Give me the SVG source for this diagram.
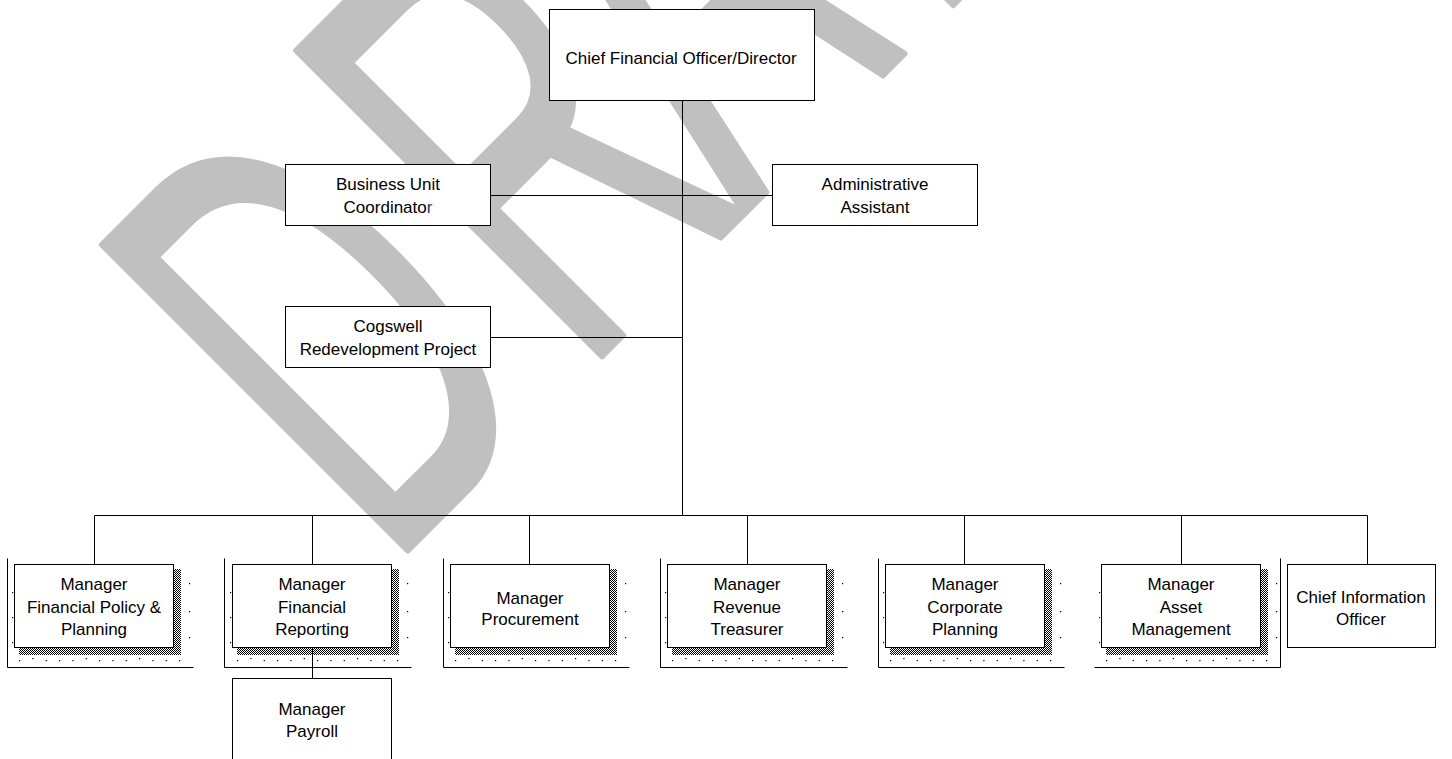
<svg xmlns="http://www.w3.org/2000/svg" xmlns:xlink="http://www.w3.org/1999/xlink" width="1452" height="759" viewBox="0 0 1452 759">
<style>
.box{fill:#fff;stroke:#000;stroke-width:1}
.ln{stroke:#000;stroke-width:1;fill:none}
.lbl{font-family:"Liberation Sans",Arial,sans-serif;font-size:17px;fill:#000;text-anchor:middle}
.wm{font-family:"Liberation Sans",Arial,sans-serif;font-size:628px;fill:#c0c0c0;stroke:#c0c0c0;stroke-width:5;stroke-linejoin:round;vector-effect:non-scaling-stroke}
.dot{fill:#000}
</style>
<defs>
<pattern id="dense" width="2" height="2" patternUnits="userSpaceOnUse">
<rect width="1" height="1" fill="#000"/><rect x="1" y="1" width="1" height="1" fill="#000"/>
</pattern>
<g id="deco">
<rect x="5" y="5" width="162" height="86" fill="url(#dense)"/>
<g class="dot">
<rect x="5" y="96" width="1.2" height="1.2"/><rect x="18.3" y="94" width="1.2" height="1.2"/><rect x="31.7" y="96" width="1.2" height="1.2"/><rect x="45" y="96" width="1.2" height="1.2"/><rect x="58.3" y="96" width="1.2" height="1.2"/><rect x="71.7" y="94" width="1.2" height="1.2"/><rect x="85" y="96" width="1.2" height="1.2"/><rect x="98.3" y="96" width="1.2" height="1.2"/><rect x="111.7" y="96" width="1.2" height="1.2"/><rect x="125" y="94" width="1.2" height="1.2"/><rect x="138.3" y="96" width="1.2" height="1.2"/><rect x="151.7" y="96" width="1.2" height="1.2"/><rect x="165" y="96" width="1.2" height="1.2"/>
<rect x="175" y="19" width="1.2" height="1.2"/><rect x="175" y="47" width="1.2" height="1.2"/><rect x="175" y="73" width="1.2" height="1.2"/>
<rect x="-2" y="28" width="1.2" height="1.2"/><rect x="-2" y="53" width="1.2" height="1.2"/><rect x="-2" y="78" width="1.2" height="1.2"/>
</g>
</g>
</defs>

<rect width="1452" height="759" fill="#fff"/>

<g id="watermark">
<text class="wm" transform="translate(406,552) rotate(-45) scale(0.55,1)" x="-49.6 450 866 1353 1709" y="0">DRAFT</text>
</g>

<g id="connectors" class="ln">
<path d="M682.5,100.5 V515.5"/>
<path d="M490.5,195.5 H772.5"/>
<path d="M490.5,337.5 H682.5"/>
<path d="M94.5,515.5 H1367.5"/>
<path d="M94.5,515.5 V564.5"/>
<path d="M312.5,515.5 V564.5"/>
<path d="M529.5,515.5 V564.5"/>
<path d="M747.5,515.5 V564.5"/>
<path d="M964.5,515.5 V564.5"/>
<path d="M1181.5,515.5 V564.5"/>
<path d="M1367.5,515.5 V564.5"/>
<path d="M312.5,647.5 V678.5"/>
</g>

<g id="cfo">
<rect class="box" x="549.5" y="9.5" width="265" height="91"/>
<text class="lbl" x="681" y="64">Chief Financial Officer/Director</text>
</g>

<g id="buc">
<rect class="box" x="285.5" y="164.5" width="205" height="61"/>
<text class="lbl" x="388" y="190">Business Unit</text>
<text class="lbl" x="388" y="213">Coordinato<tspan fill="#1f3864">r</tspan></text>
</g>

<g id="admin">
<rect class="box" x="772.5" y="164.5" width="205" height="61"/>
<text class="lbl" x="875" y="190">Administrative</text>
<text class="lbl" x="875" y="213">Assistant</text>
</g>

<g id="cogswell">
<rect class="box" x="285.5" y="306.5" width="205" height="61"/>
<text class="lbl" x="388" y="332">Cogswell</text>
<text class="lbl" x="388" y="355">Redevelopment Project</text>
</g>

<g id="mgr-policy" transform="translate(14,564)">
<path class="ln" d="M-6.5,-5.5 V103.5 H179.5"/>
<use xlink:href="#deco"/>
<rect class="box" x="0.5" y="0.5" width="159" height="83"/>
<text class="lbl" x="80" y="26">Manager</text>
<text class="lbl" x="80" y="49">Financial Policy &amp;</text>
<text class="lbl" x="80" y="71">Planning</text>
</g>

<g id="mgr-reporting" transform="translate(232,564)">
<path class="ln" d="M-7.5,-5.5 V103.5 H179.5"/>
<use xlink:href="#deco"/>
<rect class="box" x="0.5" y="0.5" width="159" height="83"/>
<text class="lbl" x="80" y="26">Manager</text>
<text class="lbl" x="80" y="49">Financial</text>
<text class="lbl" x="80" y="71">Reporting</text>
</g>

<g id="mgr-payroll">
<rect class="box" x="232.5" y="678.5" width="159" height="100"/>
<text class="lbl" x="312" y="715">Manager</text>
<text class="lbl" x="312" y="737">Payroll</text>
</g>

<g id="mgr-procurement" transform="translate(450,564)">
<path class="ln" d="M-6.5,-5.5 V103.5 H179.5"/>
<use xlink:href="#deco"/>
<rect class="box" x="0.5" y="0.5" width="159" height="83"/>
<text class="lbl" x="80" y="40">Manager</text>
<text class="lbl" x="80" y="61">Procurement</text>
</g>

<g id="mgr-revenue" transform="translate(667,564)">
<path class="ln" d="M-6.5,-5.5 V103.5 H180.5"/>
<use xlink:href="#deco"/>
<rect class="box" x="0.5" y="0.5" width="159" height="83"/>
<text class="lbl" x="80" y="26">Manager</text>
<text class="lbl" x="80" y="49">Revenue</text>
<text class="lbl" x="80" y="71">Treasurer</text>
</g>

<g id="mgr-corporate" transform="translate(885,564)">
<path class="ln" d="M-6.5,-5.5 V103.5 H179.5"/>
<use xlink:href="#deco"/>
<rect class="box" x="0.5" y="0.5" width="159" height="83"/>
<text class="lbl" x="80" y="26">Manager</text>
<text class="lbl" x="80" y="49">Corporate</text>
<text class="lbl" x="80" y="71">Planning</text>
</g>

<g id="mgr-asset" transform="translate(1101,564)">
<path class="ln" d="M-6.5,103.5 H179.5 V-5.5"/>
<use xlink:href="#deco"/>
<rect class="box" x="0.5" y="0.5" width="159" height="83"/>
<text class="lbl" x="80" y="26">Manager</text>
<text class="lbl" x="80" y="49">Asset</text>
<text class="lbl" x="80" y="71">Management</text>
</g>

<g id="cio">
<rect class="box" x="1287.5" y="564.5" width="148" height="83"/>
<text class="lbl" x="1361" y="603">Chief Information</text>
<text class="lbl" x="1361" y="625">Officer</text>
</g>
</svg>
